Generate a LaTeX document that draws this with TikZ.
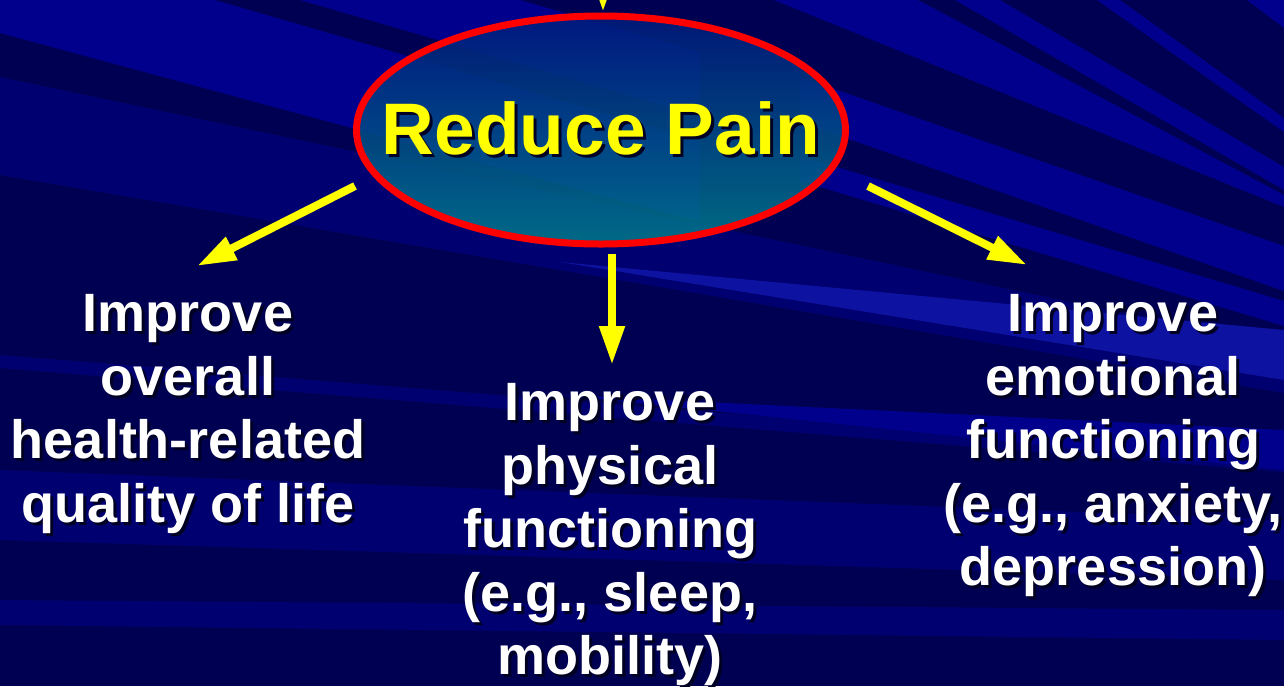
\documentclass[tikz,border=0pt]{standalone}
\usepackage{fontspec}
\setmainfont{Liberation Sans}
\usetikzlibrary{arrows.meta,shapes.geometric}
\definecolor{bgD}{RGB}{0,0,82}
\definecolor{bgM}{RGB}{0,0,112}
\definecolor{bgB}{RGB}{0,0,140}
\definecolor{bgL}{RGB}{14,18,160}
\definecolor{arrY}{RGB}{255,255,0}
\definecolor{ringR}{RGB}{255,0,0}
\definecolor{elTop}{RGB}{0,28,125}
\definecolor{elMid}{RGB}{0,80,168}
\definecolor{elBot}{RGB}{0,125,140}
\definecolor{shd}{RGB}{0,0,35}
\newcommand\shtxt[1]{\makebox[0pt][l]{\kern3pt\raisebox{-3pt}{\textcolor{shd}{#1}}}#1}
\begin{document}
\begin{tikzpicture}[x=1pt,y=-1pt,
  arr/.style={draw=arrY, line width=8pt, -{Triangle[length=39pt,width=24pt]}},
  txt/.style={text=white, font=\fontsize{54}{63.5}\selectfont\bfseries, align=center, inner sep=0pt, anchor=north},
  goal/.style={ellipse, draw=ringR, line width=7pt, minimum width=489pt, minimum height=228pt, inner sep=0pt,
    top color=elTop, middle color=elMid, bottom color=elBot, fill opacity=0.85, text opacity=1,
    text=arrY, font=\fontsize{73}{80}\selectfont\bfseries}]
\useasboundingbox (0,0) rectangle (1284,686);
\clip (0,0) rectangle (1284,686);
% background
\fill[bgD] (0,0) rectangle (1284,686);
\fill[bgB] (0,0) -- (215,0) -- (700,141) -- (700,222) -- (0,33) -- cycle;
\fill[bgB] (300,0) -- (520,0) -- (700,52) -- (700,116) -- cycle;
\fill[bgM] (0,77) -- (1284,347) -- (1284,393) -- (0,175) -- cycle;
\fill[bgM] (0,355) -- (1284,458) -- (1284,472) -- (0,368) -- cycle;
\fill[bgM] (0,470) -- (1284,520) -- (1284,580) -- (0,540) -- cycle;
\fill[bgM] (0,600) -- (1284,610) -- (1284,640) -- (0,625) -- cycle;
\fill[bgB] (1247,0) -- (1284,0) -- (1284,28) -- cycle;
\fill[bgB] (1097,0) -- (1120,0) -- (1284,118) -- (1284,132) -- cycle;
\fill[bgB] (955,0) -- (1000,0) -- (1284,167) -- (1284,190) -- cycle;
\fill[bgB] (774,0) -- (918,0) -- (1284,195) -- (1284,207) -- cycle;
\fill[bgB] (800,77) -- (1284,246) -- (1284,291) -- (800,122) -- cycle;
\fill[bgB] (800,156) -- (1284,301) -- (1284,326) -- (800,181) -- cycle;
\fill[bgL] (560,262) -- (1284,330) -- (1284,380) -- cycle;
\fill[bgB] (560,395) -- (1284,430) -- (1284,470) -- cycle;
% central node
\node[goal] (rp) at (601,130) {\makebox[0pt]{\shtxt{Reduce Pain}}};
% outcome nodes
\node[txt] (hrq) at (188,294.3) {\shtxt{Improve}\\\shtxt{overall}\\\shtxt{health-related}\\\shtxt{quality of life}};
\node[txt] (phys) at (610,383.3) {\shtxt{Improve}\\\shtxt{physical}\\\shtxt{functioning}\\\shtxt{(e.g., sleep,}\\\shtxt{mobility)}};
\node[txt] (emo) at (1113,294.3) {\shtxt{Improve}\\\shtxt{emotional}\\\shtxt{functioning}\\\shtxt{(e.g., anxiety,}\\\shtxt{depression)}};
% connectors
\coordinate (tsrc) at (603,-60);
\coordinate (ttip) at (603,12);
\coordinate (ls) at (355,186);
\coordinate (lt) at (197,266);
\coordinate (ms) at (612,254);
\coordinate (mt) at (612,365);
\coordinate (rs) at (868,186);
\coordinate (rt) at (1027,265);
\draw[arr] (tsrc) -- (ttip);
\draw[arr] (ls) -- (lt);
\draw[arr] (ms) -- (mt);
\draw[arr] (rs) -- (rt);
\end{tikzpicture}
\end{document}
